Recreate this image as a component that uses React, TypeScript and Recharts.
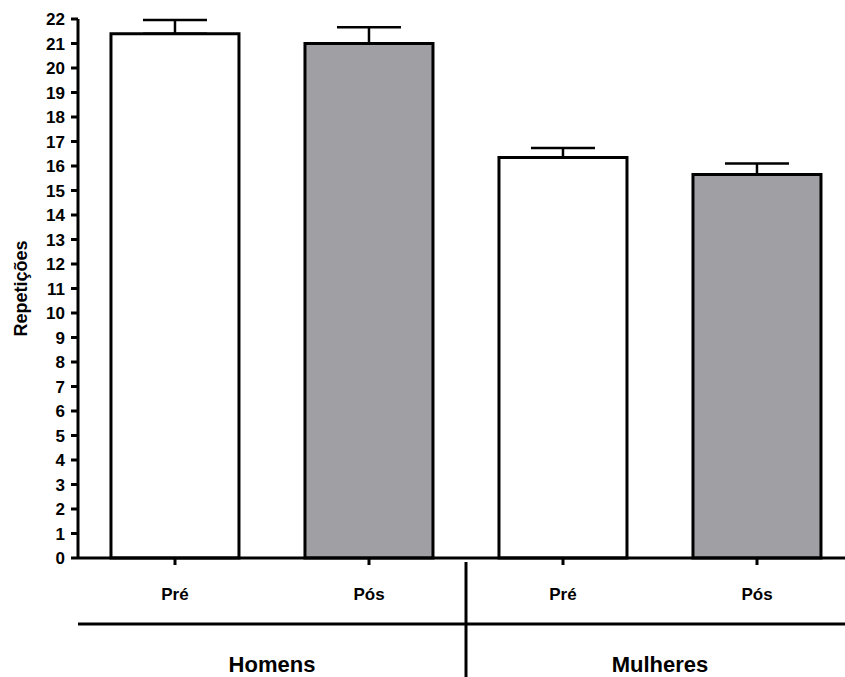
import { Bar, BarChart, Cell, ErrorBar, XAxis, YAxis } from 'recharts'

const momentos = ['Pré', 'Pós', 'Pré', 'Pós']
const grupos = ['Homens', 'Homens', 'Mulheres', 'Mulheres']
const medias = [21.4, 21.0, 16.35, 15.65]
const erros = [0.56, 0.66, 0.38, 0.45]
const yTicks = [0, 1, 2, 3, 4, 5, 6, 7, 8, 9, 10, 11, 12, 13, 14, 15, 16, 17, 18, 19, 20, 21, 22]

const FONT = "'Liberation Sans', Arial, Helvetica, sans-serif"
const fills = ['#ffffff', '#a09fa4', '#ffffff', '#a09fa4']

// only upper error shown: lower offset is zero
const data = momentos.map((momento, i) => ({
  id: i,
  momento,
  grupo: grupos[i],
  media: medias[i],
  erro: [0, erros[i]],
}))

function GroupTick(props: any) {
  const { x, y, index, payload } = props
  const half = payload?.offset ?? 0
  const first = index === 0 || grupos[index] !== grupos[index - 1]
  if (!first) return null
  return (
    <g>
      {index > 0 ? (
        <line x1={x - half} x2={x - half} y1={y - 62} y2={y + 60} stroke="#000" strokeWidth={3} />
      ) : null}
      <text
        x={x + half}
        y={y + 48}
        textAnchor="middle"
        fontFamily={FONT}
        fontWeight={700}
        fontSize={22}
        fill="#000"
      >
        {payload.value}
      </text>
    </g>
  )
}

function YLabel(props: any) {
  const { viewBox } = props
  const cx = viewBox.x + 21
  const cy = viewBox.y + viewBox.height / 2
  return (
    <text
      x={cx}
      y={cy}
      transform={`rotate(-90, ${cx}, ${cy})`}
      textAnchor="middle"
      dominantBaseline="central"
      fontFamily={FONT}
      fontWeight={700}
      fontSize={18}
      fill="#000"
    >
      Repetições
    </text>
  )
}

export default function App() {
  const axisStroke = { stroke: '#000', strokeWidth: 3 }
  const tickStyle = { fill: '#000', fontSize: 17, fontWeight: 700, fontFamily: FONT }
  return (
    <div style={{ position: 'absolute', left: 0, top: 0, width: 845, height: 677, overflow: 'hidden', background: '#fff' }}>
      <BarChart
        width={860}
        height={677}
        data={data}
        margin={{ top: 19, right: 6, left: 0, bottom: 0 }}
        barCategoryGap="17%"
      >
        <XAxis
          dataKey="momento"
          xAxisId="a"
          height={66}
          axisLine={axisStroke}
          tickLine={axisStroke}
          tickSize={7}
          tickMargin={23}
          tick={tickStyle}
          interval={0}
        />
        <XAxis
          dataKey="grupo"
          xAxisId="b"
          height={53}
          axisLine={axisStroke}
          tickLine={false}
          tickSize={0}
          tickMargin={0}
          tick={<GroupTick />}
          interval={0}
        />
        <YAxis
          type="number"
          width={78}
          domain={[0, 22]}
          ticks={yTicks}
          interval={0}
          axisLine={axisStroke}
          tickLine={axisStroke}
          tickSize={7}
          tickMargin={6}
          tick={tickStyle}
          label={<YLabel />}
        />
        <Bar
          dataKey="media"
          xAxisId="a"
          stroke="#000"
          strokeWidth={3}
          isAnimationActive={false}
        >
          {data.map((d, i) => (
            <Cell key={d.id} fill={fills[i]} />
          ))}
          <ErrorBar dataKey="erro" direction="y" width={32} stroke="#000" strokeWidth={2.5} />
        </Bar>
      </BarChart>
    </div>
  )
}
